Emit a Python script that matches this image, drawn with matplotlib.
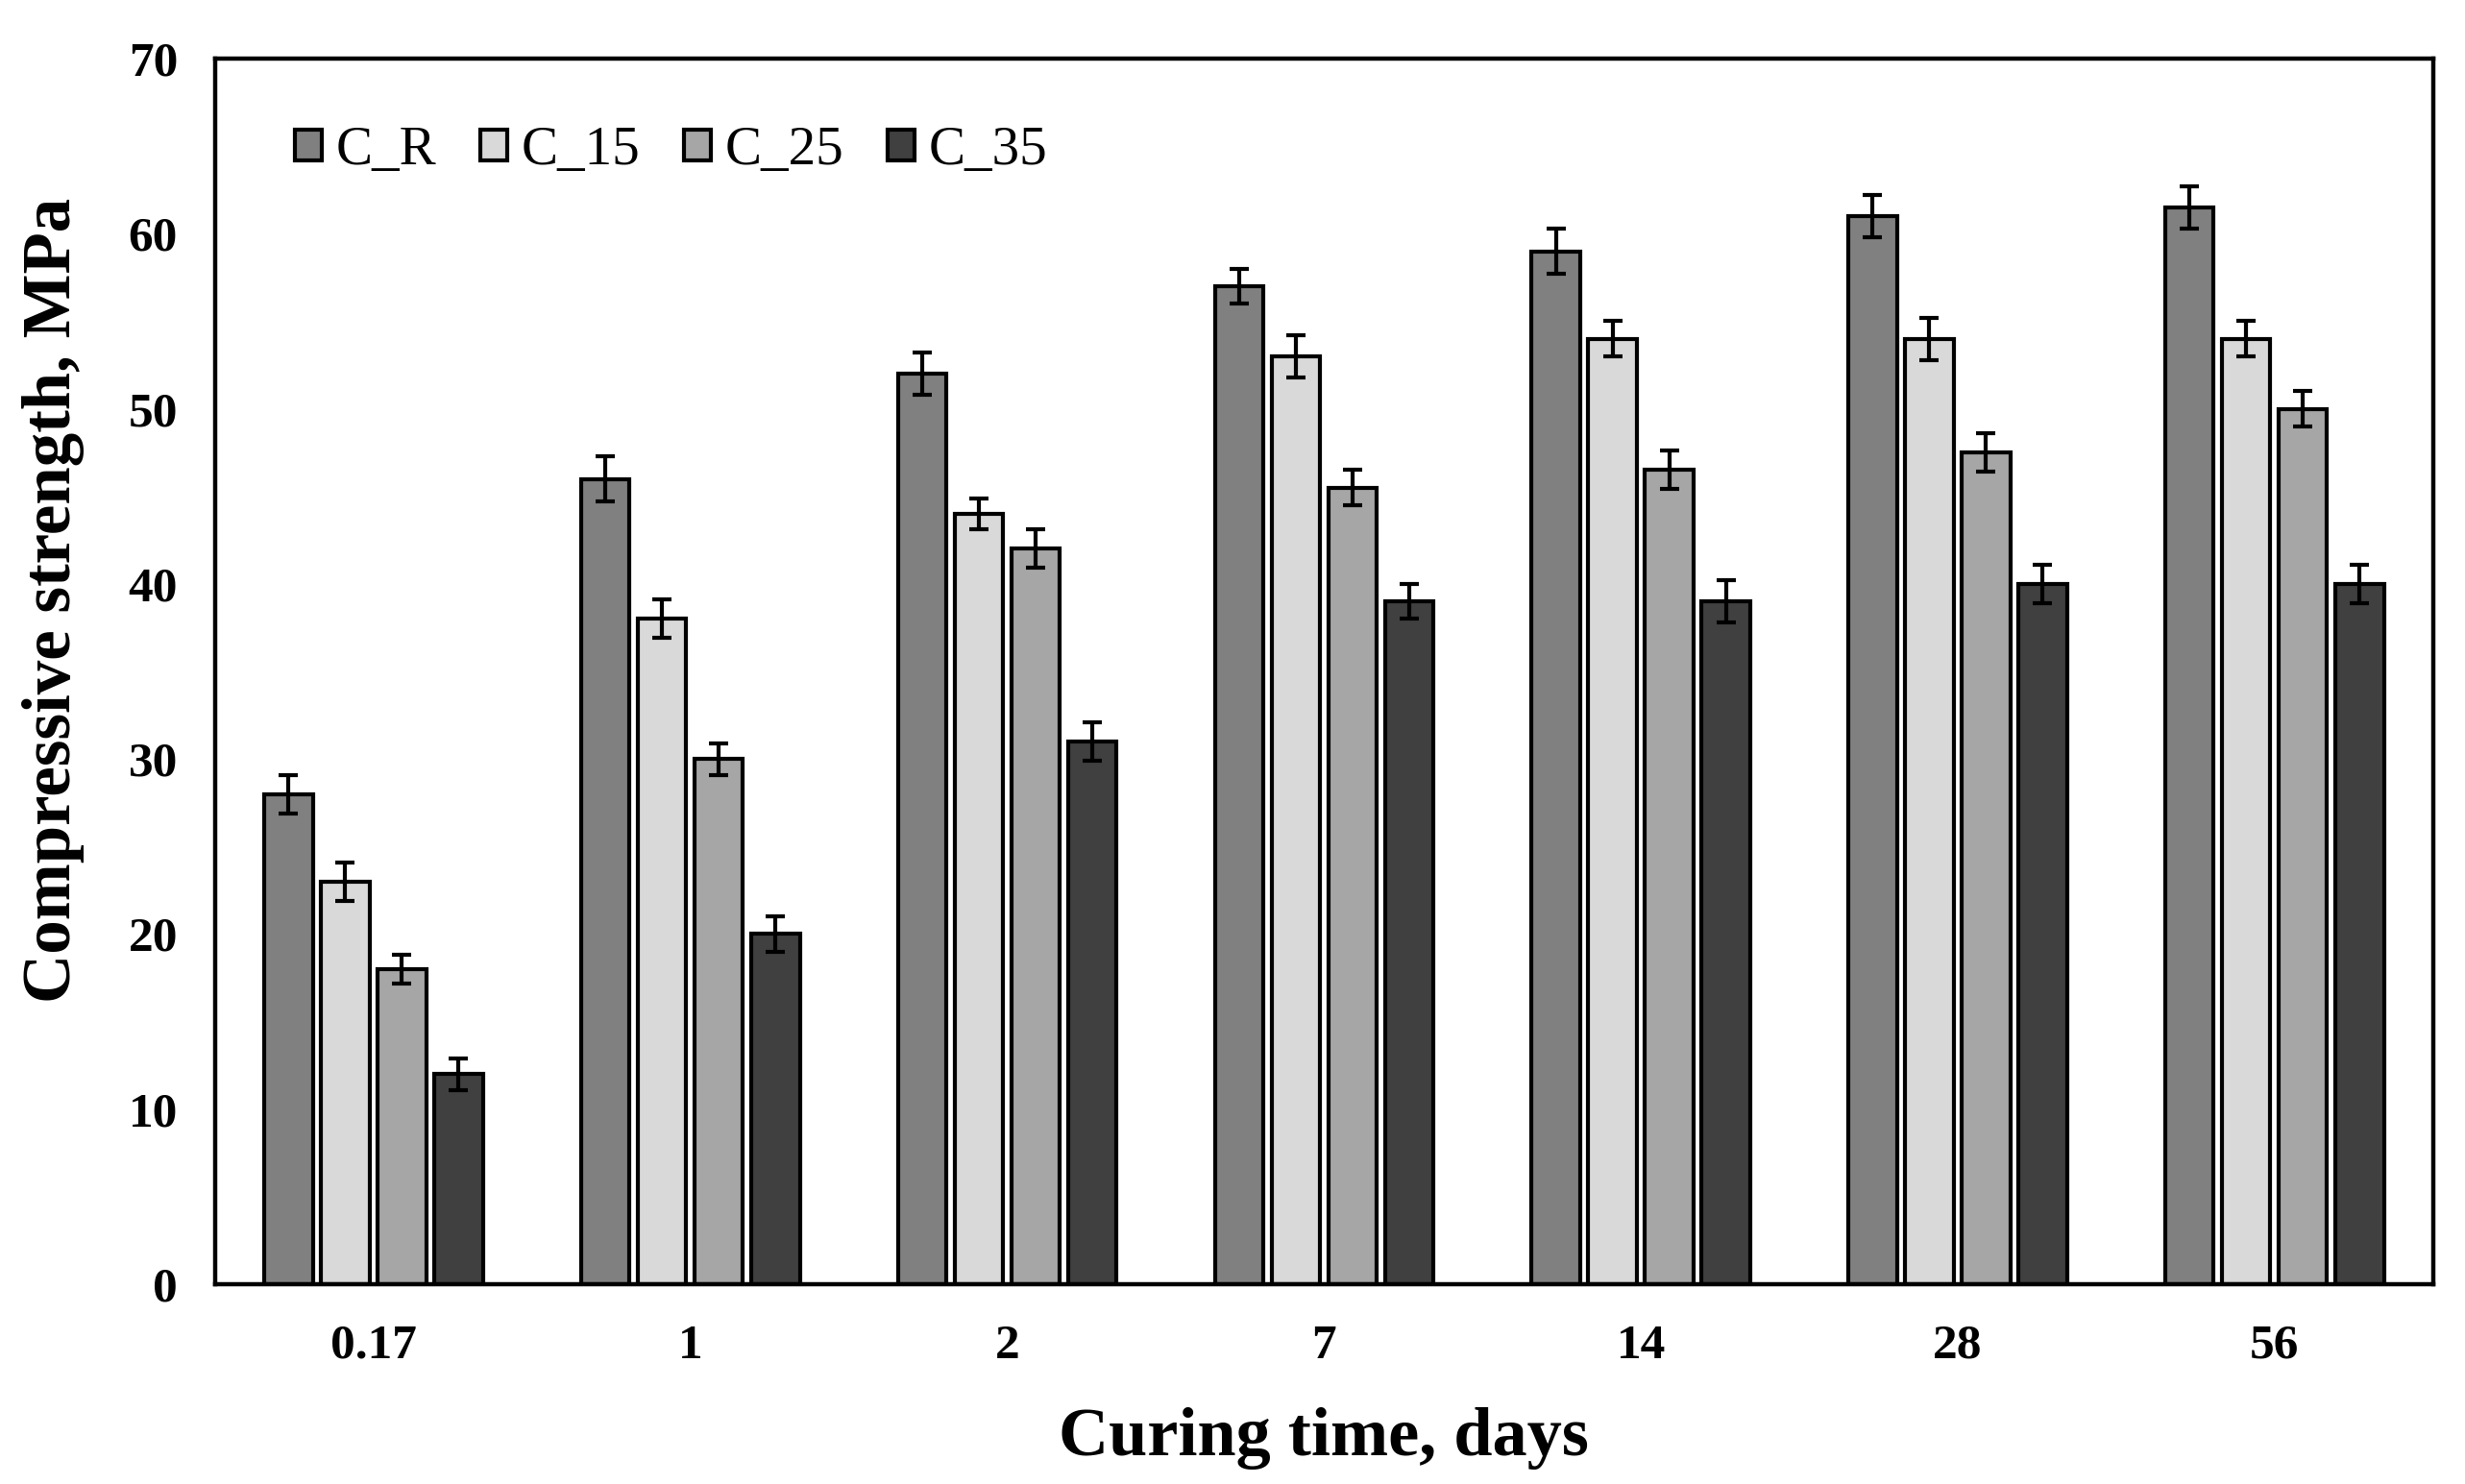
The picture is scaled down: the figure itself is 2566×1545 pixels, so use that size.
import matplotlib.pyplot as plt
import numpy as np

days = ['0.17', '1', '2', '7', '14', '28', '56']
series = ['C_R', 'C_15', 'C_25', 'C_35']

c_r = [28, 46, 52, 57, 59, 61, 61.5]
c_15 = [23, 38, 44, 53, 54, 54, 54]
c_25 = [18, 30, 42, 45.5, 46.5, 47.5, 50]
c_35 = [12, 20, 31, 39, 39, 40, 40]

err_r = [1.1, 1.3, 1.2, 1.0, 1.3, 1.2, 1.2]
err_15 = [1.1, 1.1, 0.9, 1.2, 1.0, 1.2, 1.0]
err_25 = [0.8, 0.9, 1.1, 1.0, 1.1, 1.1, 1.0]
err_35 = [0.9, 1.0, 1.1, 1.0, 1.2, 1.1, 1.1]

colors = ['#808080', '#d9d9d9', '#a6a6a6', '#404040']

plt.rcParams['font.family'] = ['Liberation Serif', 'DejaVu Serif']

fig = plt.figure(figsize=(12.83, 7.725), dpi=200)
ax = fig.add_axes([0.0873, 0.1346, 0.8997, 0.8259])

x = np.arange(len(days))
pitch = 0.179
width = 0.153
values = [c_r, c_15, c_25, c_35]
errors = [err_r, err_15, err_25, err_35]

for i, (vals, errs, name, color) in enumerate(zip(values, errors, series, colors)):
    ax.bar(x + (i - 1.5) * pitch, vals, width, color=color, edgecolor='black',
           linewidth=1.5, label=name, zorder=2,
           yerr=errs, error_kw=dict(ecolor='black', elinewidth=1.5, capsize=3.5, capthick=1.5, zorder=3))

ax.set_xlim(-0.5, len(days) - 0.5)
ax.set_ylim(0, 70)
ax.set_yticks(range(0, 71, 10))
ax.set_xticks(x)
ax.set_xticklabels(days)
ax.tick_params(length=0, labelsize=18.5)
ax.tick_params(axis='x', pad=15)
ax.tick_params(axis='y', pad=14)
for lab in ax.get_xticklabels() + ax.get_yticklabels():
    lab.set_fontweight('bold')
for sp in ax.spines.values():
    sp.set_linewidth(1.6)

ax.set_xlabel('Curing time, days', fontsize=26, fontweight='bold')
ax.set_ylabel('Compressive strength, MPa', fontsize=25.5, fontweight='bold')
ax.xaxis.set_label_coords(0.5, -0.1)
ax.yaxis.set_label_coords(-0.059, 0.558)

ax.legend(loc='upper left', ncol=4, frameon=False, fontsize=20.5,
          handlelength=0.5, handleheight=0.5, handletextpad=0.25, columnspacing=0.8,
          bbox_to_anchor=(0.026, 0.963), borderaxespad=0)

fig.savefig('out.png', dpi=200)
